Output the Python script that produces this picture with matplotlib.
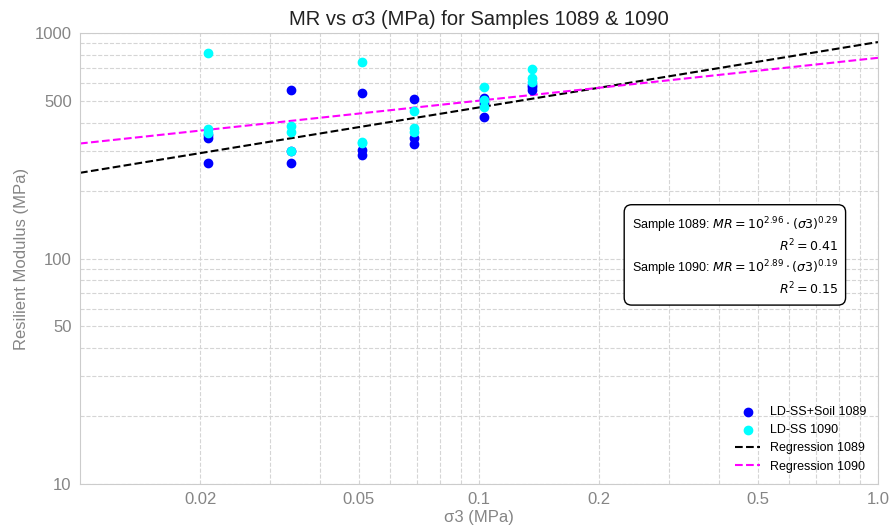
import numpy as np
import matplotlib
matplotlib.use("Agg")
import matplotlib.pyplot as plt

plt.rcParams['font.family'] = ['Liberation Sans', 'DejaVu Sans']

# confining pressure (MPa) and resilient modulus (MPa)
sigma3_1089 = [0.0209, 0.0209, 0.0209, 0.0338, 0.0338, 0.0338, 0.0510, 0.0510, 0.0510,
               0.0687, 0.0687, 0.0687, 0.1030, 0.1030, 0.1030, 0.1360, 0.1360, 0.1360]
mr_1089 = [352, 341, 264, 559, 301, 266, 541, 303, 288,
           509, 341, 322, 516, 490, 425, 590, 574, 559]

sigma3_1090 = [0.0209, 0.0209, 0.0209, 0.0338, 0.0338, 0.0338, 0.0510, 0.0510, 0.0510,
               0.0687, 0.0687, 0.0687, 0.1030, 0.1030, 0.1030, 0.1360, 0.1360, 0.1360]
mr_1090 = [813, 374, 362, 385, 365, 301, 741, 330, 324,
           452, 378, 365, 578, 505, 471, 692, 630, 608]

# regression: log10(MR) = a + b*log10(sigma3)
a_1089, b_1089, r2_1089 = 2.96, 0.29, 0.41
a_1090, b_1090, r2_1090 = 2.89, 0.19, 0.15

x_ticks = [0.02, 0.05, 0.1, 0.2, 0.5, 1.0]
x_ticklabels = ['0.02', '0.05', '0.1', '0.2', '0.5', '1.0']
y_ticks = [10, 50, 100, 500, 1000]
y_ticklabels = ['10', '50', '100', '500', '1000']

fig, ax = plt.subplots(figsize=(8.92, 5.30), dpi=100)
fig.subplots_adjust(left=0.0897, right=0.9843, top=0.9377, bottom=0.0868)

ax.scatter(sigma3_1089, mr_1089, color='blue', s=36, label='LD-SS+Soil 1089', zorder=3)
ax.scatter(sigma3_1090, mr_1090, color='cyan', s=36, label='LD-SS 1090', zorder=3)

x_fit = np.logspace(-2, 0, 100)
ax.plot(x_fit, 10**a_1089 * x_fit**b_1089, color='black', ls='--', lw=1.5,
        label='Regression 1089', zorder=2)
ax.plot(x_fit, 10**a_1090 * x_fit**b_1090, color='magenta', ls='--', lw=1.5,
        label='Regression 1090', zorder=2)

ax.set_xscale('log')
ax.set_yscale('log')
ax.set_xlim(0.01, 1.0)
ax.set_ylim(10, 1000)
ax.set_xticks(x_ticks)
ax.set_xticklabels(x_ticklabels)
ax.set_yticks(y_ticks)
ax.set_yticklabels(y_ticklabels)
ax.tick_params(axis='both', which='both', length=0, labelsize=12, labelcolor='#858585', pad=6)

ax.grid(True, which='both', linestyle='--', color='#d5d5d5', linewidth=0.8)
ax.set_axisbelow(True)
for sp in ax.spines.values():
    sp.set_color('#cccccc')

ax.set_title('MR vs σ3 (MPa) for Samples 1089 & 1090', fontsize=14.5, color='#222222')
ax.set_xlabel('σ3 (MPa)', fontsize=12, color='#858585', labelpad=2)
ax.set_ylabel('Resilient Modulus (MPa)', fontsize=12, color='#858585')

eq_text = (f'Sample 1089: $MR = 10^{{{a_1089:.2f}}} \\cdot (\\sigma3)^{{{b_1089:.2f}}}$\n'
           f'$R^2 = {r2_1089:.2f}$\n'
           f'Sample 1090: $MR = 10^{{{a_1090:.2f}}} \\cdot (\\sigma3)^{{{b_1090:.2f}}}$\n'
           f'$R^2 = {r2_1090:.2f}$')
ax.text(0.95, 0.505, eq_text, transform=ax.transAxes, ha='right', va='center',
        multialignment='right', fontsize=9, linespacing=1.25,
        bbox=dict(boxstyle='round,pad=0.6', facecolor='white', edgecolor='black'))

ax.legend(loc='lower right', frameon=False, fontsize=9)

fig.savefig('out.png', dpi=100)
